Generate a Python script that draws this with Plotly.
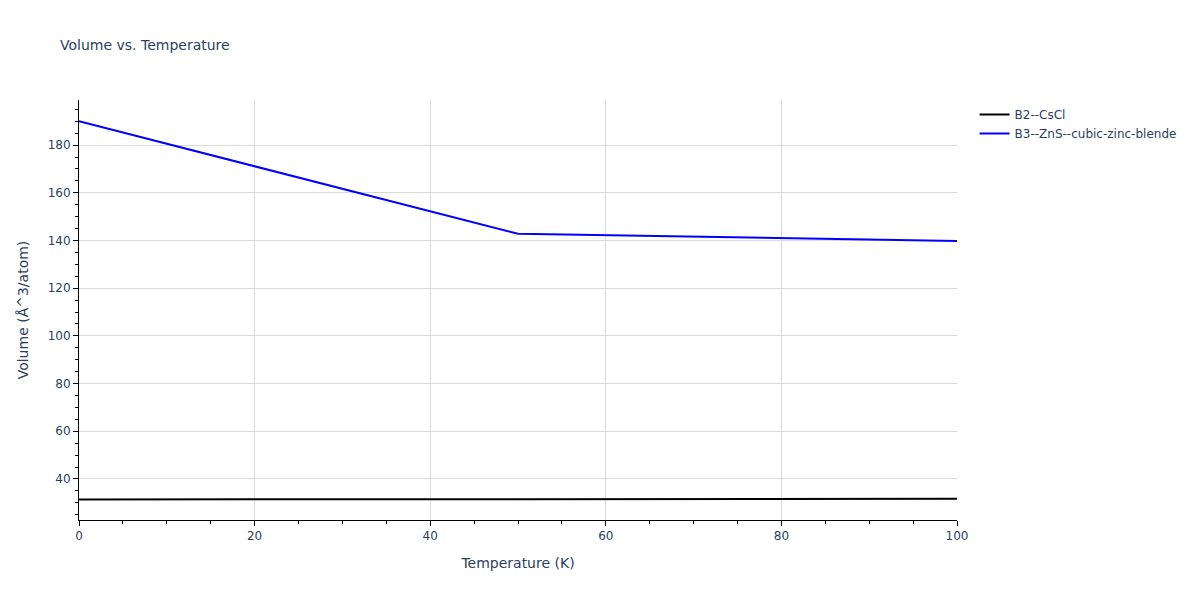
import plotly.graph_objects as go

temps_b2 = [0, 50, 100]
vol_b2 = [31.4, 31.5, 31.7]
temps_b3 = [0, 50, 100]
vol_b3 = [190.0, 142.8, 139.8]

fig = go.Figure()
fig.add_trace(go.Scatter(x=temps_b2, y=vol_b2, mode="lines", name="B2--CsCl",
                         line=dict(color="black", width=2)))
fig.add_trace(go.Scatter(x=temps_b3, y=vol_b3, mode="lines", name="B3--ZnS--cubic-zinc-blende",
                         line=dict(color="blue", width=2)))

axis_common = dict(
    showline=True, linecolor="black", linewidth=1,
    ticks="outside", tickcolor="black", ticklen=5,
    showgrid=True, gridcolor="#d9d9d9", gridwidth=1,
    zeroline=False,
    minor=dict(ticks="outside", ticklen=3, tickcolor="black", dtick=5, showgrid=False),
    title_font=dict(size=14),
)

fig.update_layout(
    template="plotly_white",
    width=1200, height=600,
    font=dict(family="DejaVu Sans, Verdana, sans-serif", size=12, color="#2a3f5f"),
    title=dict(text="Volume vs. Temperature", x=52/1200, xanchor="left",
               y=1 - 37/600, yanchor="middle", font=dict(size=14)),
    margin=dict(l=71, r=251, t=92, b=88),
    xaxis=dict(title="Temperature (K)", range=[0, 100], dtick=20, **axis_common),
    yaxis=dict(title="Volume (Å^3/atom)", range=[22.8, 198.9], dtick=20, **axis_common),
    legend=dict(x=1.02, y=1, xanchor="left", yanchor="top"),
    plot_bgcolor="white", paper_bgcolor="white",
)

fig.write_html("out.html")
